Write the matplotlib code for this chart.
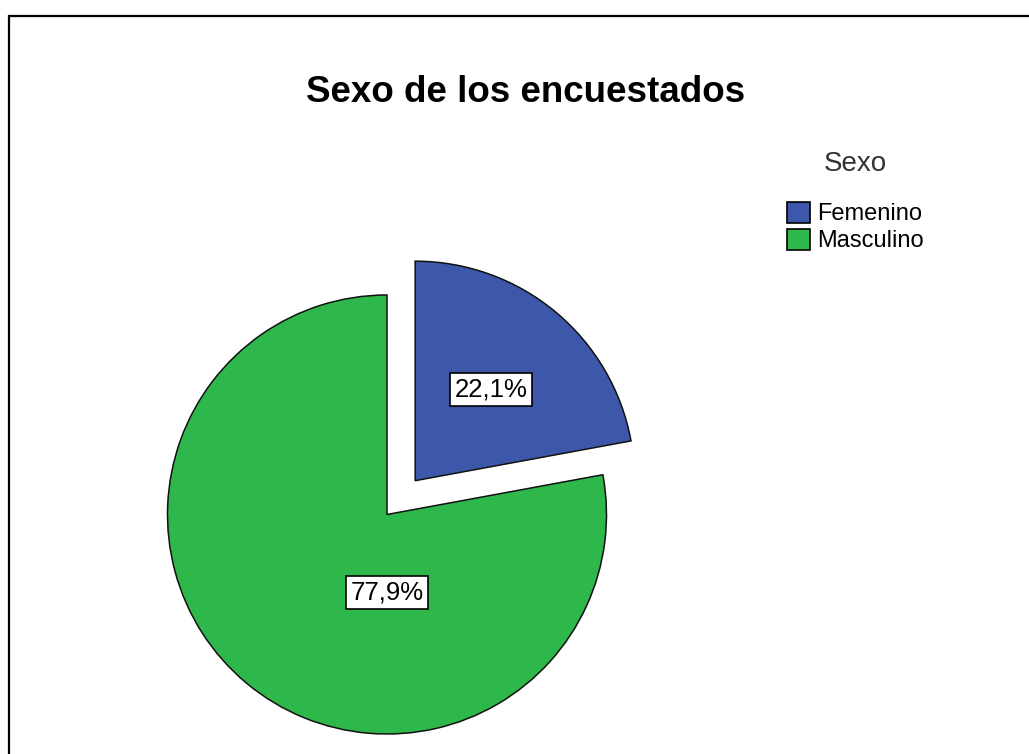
import numpy as np
import matplotlib.pyplot as plt
from matplotlib.patches import Patch, Rectangle

# respuestas por sexo (%)
categorias = ['Femenino', 'Masculino']
porcentajes = [22.1, 77.9]
colores = ['#3D58AB', '#2EB84B']
etiquetas = ['22,1%', '77,9%']

W, H = 1029, 754
fig = plt.figure(figsize=(W / 100, H / 100), dpi=100)
plt.rcParams['font.family'] = ['Liberation Sans', 'DejaVu Sans']

ax = fig.add_axes([0, 0, 1, 1])

# marco del grafico (solo se ve arriba y a la izquierda)
ax.add_patch(Rectangle((9, -20), W + 40, H - 15.5 + 20, fill=False,
                       edgecolor='black', linewidth=1.6, clip_on=False))

centro = (387, H - 514.5)
radio = 219.5
wedges, _ = ax.pie(porcentajes, colors=colores, explode=[44, 0],
                   startangle=90, counterclock=False, center=centro,
                   radius=radio, frame=True,
                   wedgeprops=dict(edgecolor='#111111', linewidth=1.1))
ax.set_xlim(0, W)
ax.set_ylim(0, H)
ax.set_aspect('equal')
ax.axis('off')

caja = dict(boxstyle='square,pad=0.16', facecolor='white',
            edgecolor='black', linewidth=1.2)
# etiqueta del sector desplazado, sobre su bisectriz
w = wedges[0]
ang = np.deg2rad((w.theta1 + w.theta2) / 2)
cx, cy = w.center
ax.text(cx + 0.54 * radio * np.cos(ang), cy + 0.54 * radio * np.sin(ang),
        etiquetas[0], ha='center', va='center', fontsize=18.5, bbox=caja)
ax.text(centro[0], centro[1] - 0.355 * radio, etiquetas[1],
        ha='center', va='center', fontsize=18.5, bbox=caja)

fig.text(526 / W, 1 - 92 / H, 'Sexo de los encuestados', ha='center',
         va='center', fontsize=26.5, fontweight='bold')

manijas = [Patch(facecolor=c, edgecolor='black', linewidth=1.2) for c in colores]
leg = fig.legend(manijas, categorias, title='Sexo', loc='upper left',
                 bbox_to_anchor=(770 / W, 1 - 134 / H), frameon=False,
                 fontsize=17, title_fontsize=20, handlelength=1.0,
                 handleheight=1.0, handletextpad=0.3, labelspacing=0.15,
                 borderpad=0.2)
leg.get_title().set_color('#333333')
leg._legend_box.sep = 18

fig.savefig('out.png', dpi=100, facecolor='white')
